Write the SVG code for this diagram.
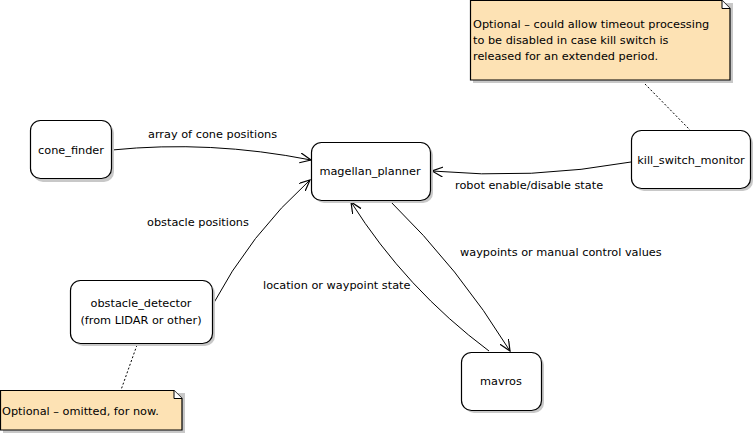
<svg xmlns="http://www.w3.org/2000/svg" width="755" height="435" viewBox="0 0 755 435">
<defs>
<style>
text{font-family:"DejaVu Sans","Liberation Sans",sans-serif;font-size:11.3px;fill:#000}
.node rect.box{fill:#fff;stroke:#000;stroke-width:1.2}
.node rect.sh{fill:#c8c8c8;stroke:none}
.mid{text-anchor:middle}
.edge{fill:none;stroke:#000;stroke-width:1}
.dash{fill:none;stroke:#000;stroke-width:1;stroke-dasharray:2,2}
.note{fill:#fde2b4;stroke:#000;stroke-width:1.2}
.nsh{fill:#c8c8c8}
</style>
<marker id="arr" markerUnits="userSpaceOnUse" markerWidth="14" markerHeight="14" refX="11" refY="5" orient="auto">
<path d="M0,0 L11,5 L0,10" fill="none" stroke="#000" stroke-width="1.2"/>
</marker>
</defs>
<rect width="755" height="435" fill="#fff"/>

<g id="note-killswitch">
<path class="nsh" d="M473,3 H733 V83 H473 Z"/>
<path class="note" d="M470.5,0.5 H722 L730,8.5 V80 H470.5 Z"/>
<path d="M722,0.5 V8.5 H730" fill="#fff" stroke="#000" stroke-width="1"/>
<text x="473" y="28">Optional – could allow timeout processing</text>
<text x="473" y="44">to be disabled in case kill switch is</text>
<text x="473" y="60">released for an extended period.</text>
</g>

<g id="note-obstacle">
<path class="nsh" d="M3,393 H185 V433 H3 Z"/>
<path class="note" d="M0.5,390.5 H174 L182,398.5 V430 H0.5 Z"/>
<path d="M174,390.5 V398.5 H182" fill="#fff" stroke="#000" stroke-width="1"/>
<text x="2" y="415">Optional – omitted, for now.</text>
</g>

<g id="connectors">
<path class="edge" d="M112,150 Q210,140 311,160" marker-end="url(#arr)"/>
<path class="edge" d="M212,306 Q250,234 310,180" marker-end="url(#arr)"/>
<path class="edge" d="M631,162 Q531,180 432,171" marker-end="url(#arr)"/>
<path class="edge" d="M390,201 Q459,268 510,351" marker-end="url(#arr)"/>
<path class="edge" d="M489,351 Q406,289 351,202" marker-end="url(#arr)"/>
<path class="dash" d="M645,84 L690,130"/>
<path class="dash" d="M137,345 L121,390"/>
<text x="148" y="138">array of cone positions</text>
<text x="147" y="226">obstacle positions</text>
<text x="455" y="189">robot enable/disable state</text>
<text x="460" y="256">waypoints or manual control values</text>
<text x="263" y="289">location or waypoint state</text>
</g>

<g id="cone_finder" class="node">
<rect class="sh" x="33" y="123" width="81" height="59" rx="10"/>
<rect class="box" x="30.5" y="120.5" width="81" height="58" rx="10"/>
<text class="mid" x="71" y="154">cone_finder</text>
</g>

<g id="magellan_planner" class="node">
<rect class="sh" x="314" y="145" width="119" height="58" rx="10"/>
<rect class="box" x="311.5" y="142.5" width="119" height="58" rx="10"/>
<text class="mid" x="370" y="175">magellan_planner</text>
</g>

<g id="kill_switch_monitor" class="node">
<rect class="sh" x="634" y="133" width="119" height="58" rx="10"/>
<rect class="box" x="631.5" y="130.5" width="119" height="58" rx="10"/>
<text class="mid" x="691" y="164">kill_switch_monitor</text>
</g>

<g id="obstacle_detector" class="node">
<rect class="sh" x="73" y="283" width="142" height="63" rx="10"/>
<rect class="box" x="70.5" y="280.5" width="142" height="63" rx="10"/>
<text class="mid" x="141" y="307">obstacle_detector</text>
<text class="mid" x="141" y="324">(from LIDAR or other)</text>
</g>

<g id="mavros" class="node">
<rect class="sh" x="464" y="355" width="80" height="58" rx="10"/>
<rect class="box" x="461.5" y="352.5" width="80" height="58" rx="10"/>
<text class="mid" x="501" y="385">mavros</text>
</g>
</svg>
